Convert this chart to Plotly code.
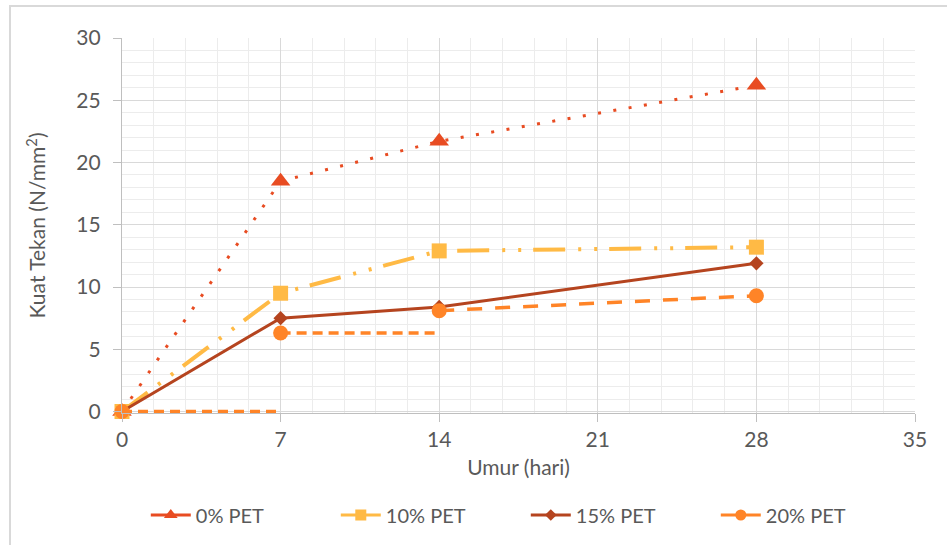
import plotly.graph_objects as go

# Compressive strength (N/mm^2) vs. curing age (days) for PET replacement levels
umur = [0, 7, 14, 28]
pet_0 = [0, 18.5, 21.7, 26.2]
pet_10 = [0, 9.5, 12.9, 13.2]
pet_15 = [0, 7.5, 8.4, 11.9]
pet_20 = [0, 6.3, 8.1, 9.3]

series_names = ["0% PET", "10% PET", "15% PET", "20% PET"]
x_ticks = [0, 7, 14, 21, 28, 35]
y_ticks = [0, 5, 10, 15, 20, 25, 30]

C_RED = "#E84C22"
C_YEL = "#FFBA45"
C_BRN = "#B5441F"
C_ORG = "#FF8427"
TXT = "#595959"
FONT = "Lato, Noto Sans, sans-serif"

fig = go.Figure()

# 0% PET: dotted line with triangles
fig.add_trace(go.Scatter(
    x=umur, y=pet_0, mode="lines+markers", showlegend=False, cliponaxis=False,
    line=dict(color=C_RED, width=3, dash="3px,12.5px"),
    marker=dict(symbol="triangle-up", size=17, color=C_RED),
))

# 10% PET: long dash - dot - dot with squares
fig.add_trace(go.Scatter(
    x=umur, y=pet_10, mode="lines+markers", showlegend=False, cliponaxis=False,
    line=dict(color=C_YEL, width=4, dash="32px,13px,3px,13px,3px,12px"),
    marker=dict(symbol="square", size=15, color=C_YEL),
))

# 15% PET: solid line with diamonds
fig.add_trace(go.Scatter(
    x=umur, y=pet_15, mode="lines+markers", showlegend=False, cliponaxis=False,
    line=dict(color=C_BRN, width=3),
    marker=dict(symbol="diamond", size=11, color=C_BRN),
))

# 20% PET: broken dashed segments held at each reading, then a sloped final leg
seg_x = [umur[0], umur[1], None, umur[1], umur[2]]
seg_y = [pet_20[0], pet_20[0], None, pet_20[1], pet_20[1]]
fig.add_trace(go.Scatter(
    x=seg_x, y=seg_y, mode="lines", showlegend=False, hoverinfo="skip",
    line=dict(color=C_ORG, width=3.5, dash="10px,6px"),
))
fig.add_trace(go.Scatter(
    x=[umur[2], umur[3]], y=[pet_20[2], pet_20[3]], mode="lines",
    showlegend=False, hoverinfo="skip",
    line=dict(color=C_ORG, width=3.5, dash="15px,13px"),
))
fig.add_trace(go.Scatter(
    x=umur, y=pet_20, mode="markers", showlegend=False, cliponaxis=False,
    marker=dict(symbol="circle", size=15, color=C_ORG),
))

# Legend keys: solid line with the series marker
legend_styles = [
    (C_RED, "triangle-up", 12),
    (C_YEL, "square", 11),
    (C_BRN, "diamond", 9),
    (C_ORG, "circle", 11),
]
for name, (col, sym, sz) in zip(series_names, legend_styles):
    fig.add_trace(go.Scatter(
        x=[None], y=[None], name=name, mode="lines+markers",
        line=dict(color=col, width=3), marker=dict(symbol=sym, size=sz, color=col),
    ))

axis_common = dict(
    showline=True, linecolor="#BFBFBF", linewidth=1.3,
    showgrid=True, gridcolor="#D9D9D9", gridwidth=1.3,
    ticks="outside", ticklen=8, tickcolor="#BFBFBF", tickwidth=1.3,
    tickfont=dict(family=FONT, size=21, color=TXT),
    zeroline=False, fixedrange=True,
)

fig.update_xaxes(
    **axis_common, range=[0, 35], tickvals=x_ticks,
    minor=dict(dtick=1.4, showgrid=True, gridcolor="#ECECEC", gridwidth=1.3),
    title=dict(text="Umur (hari)", font=dict(family=FONT, size=21, color=TXT), standoff=9),
)
fig.update_yaxes(
    **axis_common, range=[-0.12, 30], tickvals=y_ticks,
    minor=dict(dtick=1, showgrid=True, gridcolor="#ECECEC", gridwidth=1.3),
    ticklabelstandoff=8,
    title=dict(text="Kuat Tekan (N/mm<sup>2</sup>)", font=dict(family=FONT, size=21, color=TXT), standoff=24),
)

fig.update_layout(
    width=947, height=545,
    margin=dict(l=122, r=32, t=38, b=132, autoexpand=False),
    paper_bgcolor="white", plot_bgcolor="white",
    font=dict(family=FONT, color=TXT),
    legend=dict(
        orientation="h", x=0.03, xanchor="left", y=-0.272, yanchor="middle",
        entrywidth=135, entrywidthmode="pixels", itemwidth=40,
        font=dict(family=FONT, size=20, color=TXT),
        bgcolor="rgba(0,0,0,0)", traceorder="normal",
    ),
    shapes=[dict(
        type="rect", xref="paper", yref="paper",
        x0=-112 / 793, x1=1.2, y0=-0.5, y1=1 + 32 / 375,
        line=dict(color="#D9D9D9", width=2), layer="below",
    )],
)

fig.write_html("out.html")
